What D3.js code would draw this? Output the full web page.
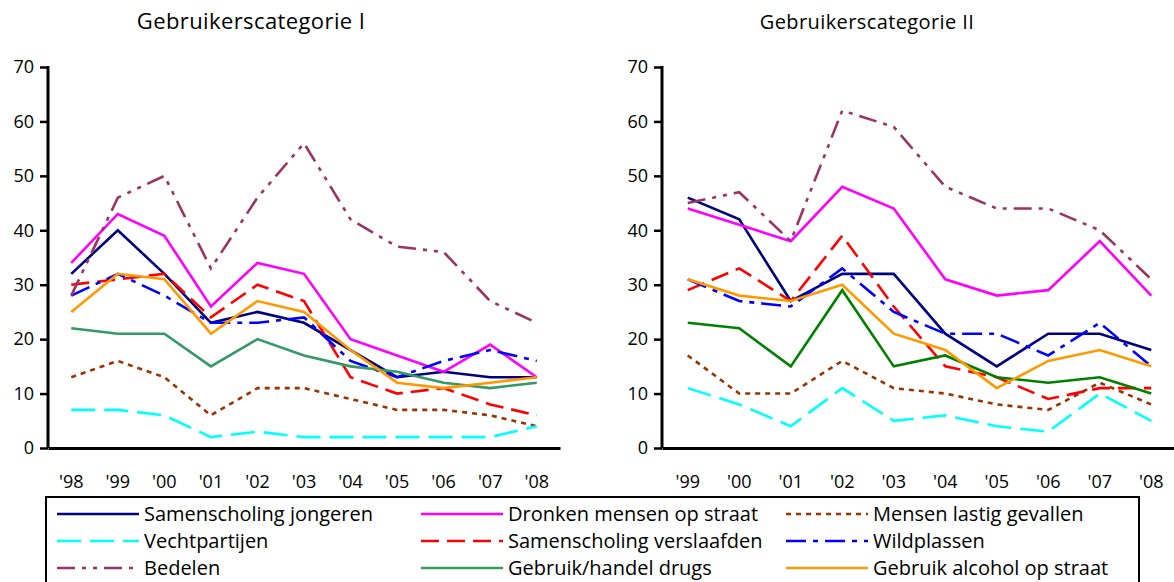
<!DOCTYPE html>
<html>
<head>
<meta charset="utf-8">
<script src="https://cdn.jsdelivr.net/npm/d3@7"></script>
<style>
  body { margin: 0; background: #fff; }
  svg { font-family: "Open Sans", "DejaVu Sans", sans-serif; }
</style>
</head>
<body>
<svg width="1174" height="582"></svg>
<script>
// categories
const yearsI = ["'98", "'99", "'00", "'01", "'02", "'03", "'04", "'05", "'06", "'07", "'08"];
const yearsII = ["'99", "'00", "'01", "'02", "'03", "'04", "'05", "'06", "'07", "'08"];
const yTicks = [0, 10, 20, 30, 40, 50, 60, 70];

const seriesNames = [
    "Samenscholing jongeren", "Dronken mensen op straat", "Mensen lastig gevallen",
    "Vechtpartijen", "Samenscholing verslaafden", "Wildplassen",
    "Bedelen", "Gebruik/handel drugs", "Gebruik alcohol op straat"
];

// Gebruikerscategorie I
const jongerenI    = [32, 40, 32, 23, 25, 23, 18, 13, 14, 13, 13];
const dronkenI     = [34, 43, 39, 26, 34, 32, 20, 17, 14, 19, 13];
const lastigI      = [13, 16, 13, 6, 11, 11, 9, 7, 7, 6, 4];
const vechtI       = [7, 7, 6, 2, 3, 2, 2, 2, 2, 2, 4];
const verslaafdenI = [30, 31, 32, 24, 30, 27, 13, 10, 11, 8, 6];
const wildplassenI = [28, 32, 28, 23, 23, 24, 16, 13, 16, 18, 16];
const bedelenI     = [28, 46, 50, 33, 46, 56, 42, 37, 36, 27, 23];
const drugsI       = [22, 21, 21, 15, 20, 17, 15, 14, 12, 11, 12];
const alcoholI     = [25, 32, 31, 21, 27, 25, 18, 12, 11, 12, 13];

// Gebruikerscategorie II
const jongerenII    = [46, 42, 27, 32, 32, 21, 15, 21, 21, 18];
const dronkenII     = [44, 41, 38, 48, 44, 31, 28, 29, 38, 28];
const lastigII      = [17, 10, 10, 16, 11, 10, 8, 7, 12, 8];
const vechtII       = [11, 8, 4, 11, 5, 6, 4, 3, 10, 5];
const verslaafdenII = [29, 33, 27, 39, 26, 15, 13, 9, 11, 11];
const wildplassenII = [31, 27, 26, 33, 25, 21, 21, 17, 23, 15];
const bedelenII     = [45, 47, 38, 62, 59, 48, 44, 44, 40, 31];
const drugsII       = [23, 22, 15, 29, 15, 17, 13, 12, 13, 10];
const alcoholII     = [31, 28, 27, 30, 21, 18, 11, 16, 18, 15];

const styles = [
    { color: "#000080", dash: null },
    { color: "#ff00ff", dash: null },
    { color: "#993300", dash: "5,5" },
    { color: "#00ffff", dash: "24,9" },
    { color: "#ff0000", dash: "18,8" },
    { color: "#0000ff", dash: "20,7,5,7" },
    { color: "#993366", dash: "18,7,4,7,4,7" },
    { color: "#339966", dash: null },
    { color: "#ff9900", dash: null }
];

const svg = d3.select("svg");

function drawChart(opts) {
    const x = d3.scaleBand().domain(opts.years).range([opts.left, opts.right]).padding(0);
    const y = d3.scaleLinear().domain([0, 70]).range([448, 67]);
    const g = svg.append("g");

    g.append("text")
        .attr("x", opts.titleX).attr("y", 29)
        .attr("text-anchor", "middle")
        .attr("font-size", opts.titleSize)
        .attr("letter-spacing", 0.4)
        .text(opts.title);

    const line = d3.line()
        .x((d, i) => x(opts.years[i]) + x.bandwidth() / 2)
        .y(d => y(d));

    opts.series.forEach((vals, k) => {
        g.append("path")
            .datum(vals)
            .attr("fill", "none")
            .attr("stroke", k == 7 && opts.drugsColor ? opts.drugsColor : styles[k].color)
            .attr("stroke-width", 2.6)
            .attr("stroke-dasharray", styles[k].dash)
            .attr("stroke-linejoin", "miter")
            .attr("d", line);
    });

    // y axis
    const ya = g.append("g")
        .attr("transform", `translate(${opts.left},0)`)
        .call(d3.axisLeft(y).tickValues(yTicks).tickSize(8).tickPadding(6));
    ya.select(".domain").remove();
    ya.selectAll("line").attr("stroke", "#000").attr("stroke-width", 2.5);
    ya.selectAll("text").attr("font-size", 18).attr("fill", "#000")
        .attr("font-family", "'Open Sans', sans-serif");
    g.append("line")
        .attr("x1", opts.left).attr("x2", opts.left)
        .attr("y1", y(70) - 1).attr("y2", y(0))
        .attr("stroke", "#000").attr("stroke-width", 3);

    // x axis
    const xa = g.append("g")
        .attr("transform", `translate(0,${y(0)})`)
        .call(d3.axisBottom(x).tickSize(0).tickPadding(27));
    xa.select(".domain").attr("stroke", "#000").attr("stroke-width", 3);
    xa.selectAll("text").attr("font-size", 18).attr("fill", "#000")
        .attr("font-family", "'Open Sans', sans-serif");
}

drawChart({
    title: "Gebruikerscategorie I", titleX: 251, titleSize: 22,
    years: yearsI, left: 48, right: 560,
    series: [jongerenI, dronkenI, lastigI, vechtI, verslaafdenI, wildplassenI, bedelenI, drugsI, alcoholI]
});

drawChart({
    title: "Gebruikerscategorie II", titleX: 867, titleSize: 20,
    years: yearsII, left: 662, right: 1177, drugsColor: "#008000",
    series: [jongerenII, dronkenII, lastigII, vechtII, verslaafdenII, wildplassenII, bedelenII, drugsII, alcoholII]
});

// legend
const legend = svg.append("g");
legend.append("rect")
    .attr("x", 46).attr("y", 497).attr("width", 1093).attr("height", 110)
    .attr("fill", "#fff").attr("stroke", "#000").attr("stroke-width", 2);

const colX = [57, 421, 786];
const rowY = [514, 541, 568];
seriesNames.forEach((name, k) => {
    const cx = colX[k % 3], cy = rowY[Math.floor(k / 3)];
    legend.append("line")
        .attr("x1", cx).attr("x2", cx + 82)
        .attr("y1", cy).attr("y2", cy)
        .attr("stroke", styles[k].color)
        .attr("stroke-width", 2.6)
        .attr("stroke-dasharray", styles[k].dash);
    legend.append("text")
        .attr("x", cx + 87).attr("y", cy + 7)
        .attr("font-size", 20)
        .text(name);
});
</script>
</body>
</html>
